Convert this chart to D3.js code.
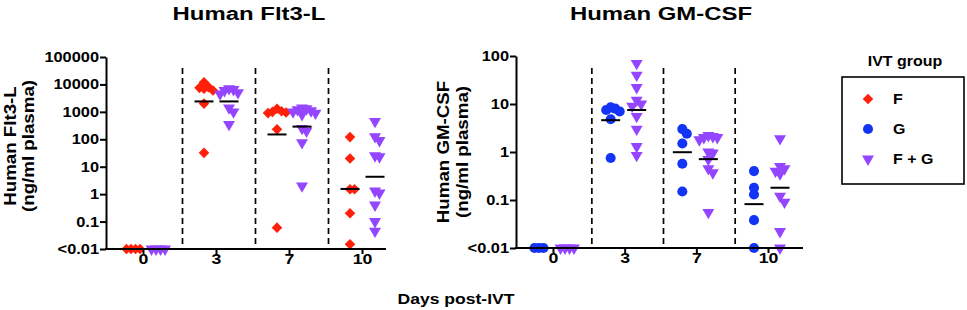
<!DOCTYPE html>
<html>
<head>
<meta charset="utf-8">
<script src="https://cdn.jsdelivr.net/npm/d3@7"></script>
<style>
body { margin: 0; background: #fff; }
text { font-family: Arial, "Liberation Sans", sans-serif; font-weight: bold; fill: #000; }
</style>
</head>
<body>
<svg id="chart" width="967" height="310"></svg>
<script>
const days = ["0", "3", "7", "10"]
const groupNames = ["F", "G", "F + G"]
const groupColors = ["#ff200a", "#1434f5", "#9445ff"]

// Flt3-L panel (ng/ml), values at the floor are stored as 0.01
const flt3Ticks = [0.01, 0.1, 1, 10, 100, 1000, 10000, 100000]
const flt3TickLabels = ["<0.01", "0.1", "1", "10", "100", "1000", "10000", "100000"]
const flt3F = [
    [0.01, 0.01, 0.01, 0.01],
    [7000, 6000, 8000, 7500, 12000, 2000, 32],
    [1000, 950, 1050, 900, 1300, 230, 0.06],
    [120, 20, 1.5, 1.5, 0.2, 0.015]
]
const flt3FG = [
    [0.01, 0.01, 0.01, 0.01],
    [7000, 6000, 5000, 6500, 4500, 1400, 1000, 350],
    [1400, 1300, 1200, 1100, 1000, 900, 800, 250, 200, 75, 2],
    [450, 125, 90, 25, 23, 1.3, 1.1, 0.4, 0.1, 0.045]
]
const flt3MeanF = [null, 2400, 150, 1.55]
const flt3MeanFG = [null, 2400, 290, 4.3]

// GM-CSF panel
const gmTicks = [0.01, 0.1, 1, 10, 100]
const gmTickLabels = ["<0.01", "0.1", "1", "10", "100"]
const gmG = [
    [0.01, 0.01, 0.01],
    [8.5, 8, 7.5, 7, 4.8, 0.75],
    [3, 2.4, 1.5, 0.57, 0.15],
    [0.4, 0.18, 0.13, 0.038, 0.01]
]
const gmFG = [
    [0.01, 0.01, 0.01, 0.01],
    [70, 40, 22, 12, 10, 9, 5.5, 3, 1.3, 0.85],
    [2.2, 2.1, 2.0, 2.0, 1.8, 1.0, 0.95, 0.7, 0.45, 0.37, 0.055],
    [1.9, 0.5, 0.45, 0.4, 0.35, 0.12, 0.09, 0.022, 0.01]
]
const gmMeanG = [null, 4.6, 0.99, 0.082]
const gmMeanFG = [null, 7.5, 0.71, 0.18]

const svg = d3.select('#chart')

const panels = [
    {
        title: "Human Flt3-L", yTitle: ["Human Flt3-L", "(ng/ml plasma)"],
        ticks: flt3Ticks, tickLabels: flt3TickLabels,
        left: 106, right: 386, top: 57, bottom: 249, xFrom: 143, xTo: 362, dashTop: 68,
        titleX: 249, yTitleX: [16, 34], yTitleY: 146,
        series: [
            { values: flt3F, means: flt3MeanF, group: 0, shift: -12 },
            { values: flt3FG, means: flt3MeanFG, group: 2, shift: 13 }
        ]
    },
    {
        title: "Human GM-CSF", yTitle: ["Human GM-CSF", "(ng/ml plasma)"],
        ticks: gmTicks, tickLabels: gmTickLabels,
        left: 516, right: 803, top: 56, bottom: 248, xFrom: 553, xTo: 768, dashTop: 68,
        titleX: 661, yTitleX: [449, 468], yTitleY: 152,
        series: [
            { values: gmG, means: gmMeanG, group: 1, shift: -14 },
            { values: gmFG, means: gmMeanFG, group: 2, shift: 12 }
        ]
    }
]

const symbols = [
    d3.symbol(d3.symbolSquare, 56),
    d3.symbol(d3.symbolCircle, 80),
    d3.symbol(d3.symbolTriangle, 62)
]
const rotations = [45, 0, 180]

// wider looking bold font: stretch text along its own direction
function stretchText(sel, sx, rot) {
    sel.each(function () {
        const t = d3.select(this)
        const x = +t.attr('x') || 0
        const y = +t.attr('y') || 0
        t.attr('x', null).attr('y', null)
            .attr('transform', `translate(${x},${y})` + (rot ? ` rotate(${rot})` : '') + ` scale(${sx},1)`)
    })
}

// simple dodge so points with close values spread sideways
function dodge(vals, y, cx) {
    const placed = []
    const order = vals.map((v, i) => i).sort((a, b) => vals[b] - vals[a])
    const step = 4.5
    order.forEach(i => {
        const py = y(vals[i])
        for (let k = 0; k < 20; k++) {
            const off = k === 0 ? 0 : Math.ceil(k / 2) * step * (k % 2 ? 1 : -1)
            const hit = placed.some(p => Math.abs(p.x - (cx + off)) < step - 0.1 && Math.abs(p.y - py) < 6)
            if (!hit) { placed.push({ x: cx + off, y: py }); break }
        }
    })
    return placed
}

function drawPanel(p) {
    const y = d3.scaleLog()
        .domain([p.ticks[0], p.ticks[p.ticks.length - 1]])
        .range([p.bottom, p.top])
    const x = d3.scalePoint()
        .domain(days)
        .range([p.xFrom, p.xTo])
    const g = svg.append('g')

    // dashed separators between the days
    const seps = days.slice(1).map((d, i) => (x(days[i]) + x(d)) / 2 + 3)
    g.selectAll('.sep')
        .data(seps)
        .enter()
        .append('line')
        .attr('x1', d => d).attr('x2', d => d)
        .attr('y1', p.dashTop).attr('y2', p.bottom)
        .attr('stroke', '#000')
        .attr('stroke-width', 1.7)
        .attr('stroke-dasharray', '6,4')

    // points
    p.series.forEach(s => {
        s.values.forEach((vals, di) => {
            const pts = dodge(vals, y, x(days[di]) + s.shift)
            g.selectAll(null)
                .data(pts)
                .enter()
                .append('path')
                .attr('d', symbols[s.group]())
                .attr('transform', d => `translate(${d.x},${d.y}) rotate(${rotations[s.group]})`)
                .attr('fill', groupColors[s.group])
        })
        // mean lines
        g.selectAll(null)
            .data(s.means.map((m, di) => ({ m, di })).filter(d => d.m !== null))
            .enter()
            .append('line')
            .attr('x1', d => x(days[d.di]) + s.shift - 9.5)
            .attr('x2', d => x(days[d.di]) + s.shift + 9.5)
            .attr('y1', d => y(d.m)).attr('y2', d => y(d.m))
            .attr('stroke', '#000')
            .attr('stroke-width', 2)
    })

    // y axis
    const yAxis = g.append('g')
        .attr('transform', `translate(${p.left},0)`)
        .call(d3.axisLeft(y)
            .tickValues(p.ticks)
            .tickFormat((d, i) => p.tickLabels[i])
            .tickSize(6)
            .tickSizeOuter(0)
            .tickPadding(1))
    yAxis.select('.domain').attr('stroke-width', 2)
    yAxis.selectAll('.tick line').attr('stroke-width', 2)
    yAxis.selectAll('text').attr('font-size', 14).attr('fill', '#000')
    stretchText(yAxis.selectAll('text'), 1.17)

    // x axis
    const xAxis = g.append('g')
        .attr('transform', `translate(0,${p.bottom})`)
        .call(d3.axisBottom(x).tickSize(5).tickSizeOuter(0).tickPadding(-1))
    xAxis.select('.domain').remove()
    xAxis.selectAll('.tick line').attr('stroke-width', 2)
    xAxis.selectAll('text').attr('font-size', 15).attr('fill', '#000')
    stretchText(xAxis.selectAll('text'), 1.18)
    g.append('line')
        .attr('x1', p.left - 1).attr('x2', p.right)
        .attr('y1', p.bottom).attr('y2', p.bottom)
        .attr('stroke', '#000')
        .attr('stroke-width', 2)

    // titles
    const title = g.append('text')
        .attr('x', p.titleX).attr('y', 20)
        .attr('text-anchor', 'middle')
        .attr('font-size', 19)
        .text(p.title)
    stretchText(title, 1.26)

    p.yTitle.forEach((line, i) => {
        const t = g.append('text')
            .attr('x', p.yTitleX[i]).attr('y', p.yTitleY)
            .attr('text-anchor', 'middle')
            .attr('font-size', 16)
            .text(line)
        stretchText(t, 1.17, -90)
    })
}

panels.forEach(drawPanel)

// shared x label
stretchText(svg.append('text')
    .attr('x', 456).attr('y', 304)
    .attr('text-anchor', 'middle')
    .attr('font-size', 15)
    .text('Days post-IVT'), 1.17)

// legend
const legend = svg.append('g')
stretchText(legend.append('text')
    .attr('x', 905).attr('y', 66)
    .attr('text-anchor', 'middle')
    .attr('font-size', 14)
    .text('IVT group'), 1.14)
legend.append('rect')
    .attr('x', 842).attr('y', 77)
    .attr('width', 122).attr('height', 107)
    .attr('fill', 'none')
    .attr('stroke', '#000')
    .attr('stroke-width', 1.6)
const rowY = d3.scalePoint().domain(groupNames).range([99, 159])
groupNames.forEach((name, i) => {
    legend.append('path')
        .attr('d', symbols[i]())
        .attr('transform', `translate(868,${rowY(name)}) rotate(${rotations[i]})`)
        .attr('fill', groupColors[i])
    stretchText(legend.append('text')
        .attr('x', 893).attr('y', rowY(name) + 5)
        .attr('font-size', 14)
        .text(name), 1.14)
})
</script>
</body>
</html>
